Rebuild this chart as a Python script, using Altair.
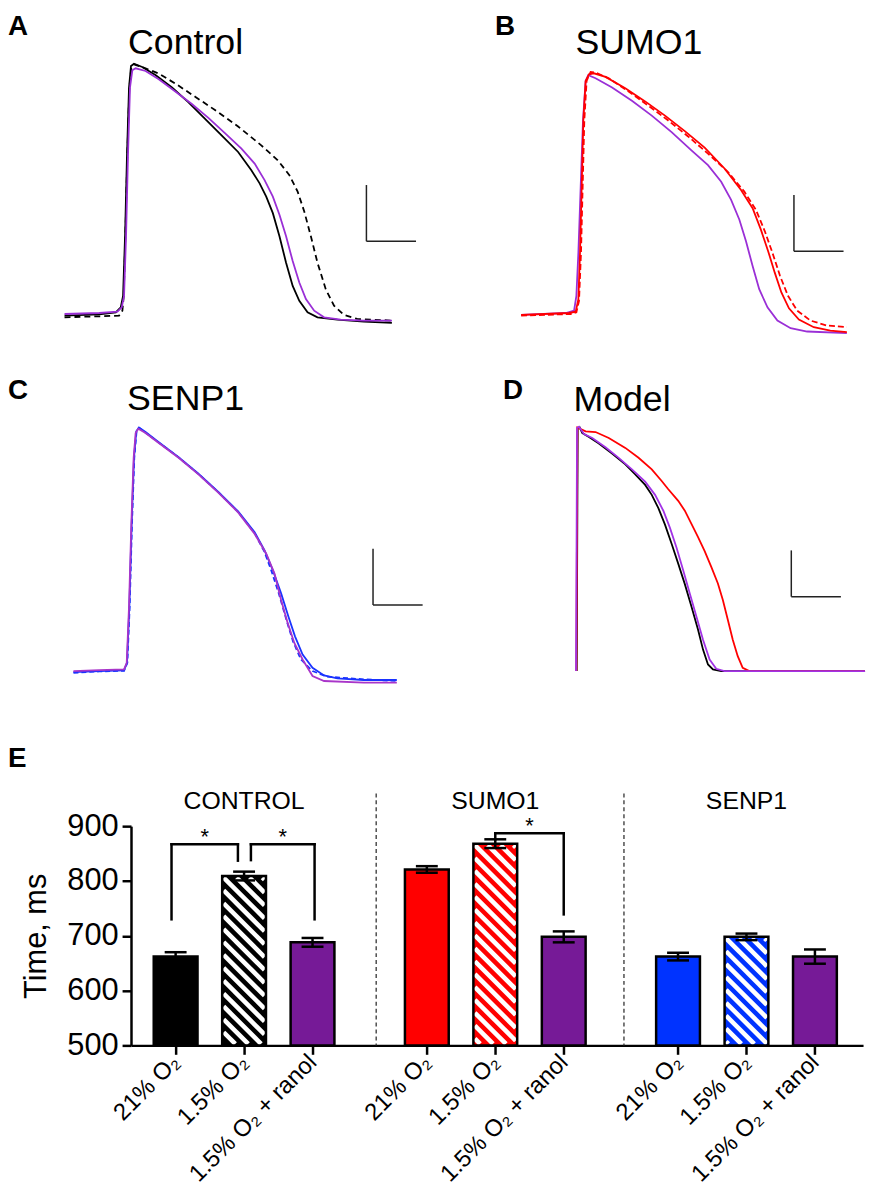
import altair as alt
import pandas as pd

FONT = "Liberation Sans"
LABEL_FONT = "Liberation Sans, DejaVu Sans"

# ---------------- action potential traces: (time ms, voltage mV) ----------------
# Panel A: Control
A_21 = [(-175,-80.0),(-70,-79.6),(-20,-79.0),(-5,-77.5),(2,-74.0),(8,-56.0),(14,-31.0),(20,-11.0),(26,-4.5),(35,-3.8),
        (60,-4.8),(100,-7.2),(150,-11.0),(200,-15.5),(250,-20.5),(300,-25.5),(350,-30.5),(390,-36.0),(415,-40.0),(435,-44.0),
        (455,-49.0),(475,-56.0),(495,-64.0),(515,-71.0),(535,-75.5),(560,-79.0),(590,-80.5),(650,-81.2),(730,-81.8),(815,-82.2)]
A_15 = [(-175,-80.5),(-70,-80.2),(-10,-80.0),(0,-78.5),(4,-74.0),(9,-56.0),(15,-31.0),(21,-11.0),(27,-5.0),(35,-4.0),
        (70,-5.2),(110,-6.8),(160,-9.8),(220,-13.8),(280,-17.8),(350,-22.8),(420,-28.5),(470,-33.0),(505,-37.5),(530,-42.5),
        (550,-48.5),(570,-56.0),(590,-64.0),(615,-72.0),(640,-77.0),(670,-79.8),(710,-81.0),(815,-81.5)]
A_RAN = [(-175,-79.5),(-70,-79.2),(-15,-78.8),(-2,-77.5),(5,-74.0),(11,-56.0),(17,-31.0),(23,-11.0),(30,-5.8),(40,-5.2),
         (70,-6.0),(110,-8.5),(160,-12.2),(210,-16.0),(260,-20.2),(310,-24.8),(360,-29.5),(400,-34.0),(430,-39.0),(455,-44.0),
         (475,-49.5),(495,-56.0),(515,-63.5),(535,-70.0),(555,-75.0),(580,-78.5),(610,-80.5),(660,-81.2),(730,-81.5),(815,-81.5)]

# Panel B: SUMO1
B_21 = [(-175,-80.3),(-30,-79.7),(-10,-79.3),(-2,-75.5),(3,-61.5),(8,-41.5),(13,-21.5),(20,-9.5),(30,-7.5),(45,-7.2),
        (80,-8.3),(140,-11.7),(200,-15.7),(260,-20.0),(320,-24.7),(380,-29.7),(440,-36.0),(490,-42.5),(525,-48.0),(550,-54.5),
        (572,-61.0),(592,-67.5),(612,-73.5),(635,-78.3),(665,-81.7),(710,-84.0),(760,-85.0),(810,-85.5)]
B_15 = [(-175,-80.5),(-25,-80.0),(-8,-79.5),(0,-76.0),(6,-61.5),(11,-41.5),(16,-21.5),(23,-9.5),(35,-6.8),(50,-7.0),
        (90,-8.7),(150,-12.7),(210,-17.0),(270,-21.5),(330,-26.3),(390,-31.5),(450,-37.0),(500,-43.0),(535,-48.5),(562,-55.0),
        (585,-61.5),(608,-68.5),(632,-74.5),(660,-79.0),(700,-82.0),(750,-83.5),(810,-84.0)]
B_RAN = [(-175,-80.3),(-40,-79.7),(-15,-79.0),(-8,-74.5),(-2,-61.5),(5,-41.5),(12,-21.5),(20,-9.5),(28,-7.8),(50,-8.7),
         (100,-11.5),(160,-15.5),(220,-20.0),(280,-25.0),(340,-30.5),(390,-35.0),(430,-40.0),(460,-45.5),(485,-51.5),(505,-58.0),
         (525,-65.5),(545,-72.5),(570,-78.0),(600,-82.0),(640,-84.3),(690,-85.3),(810,-85.8)]

# Panel C: SENP1
C_21 = [(-163,-80.5),(-85,-80.2),(-10,-80.0),(-1,-77.7),(6,-60.7),(13,-35.7),(20,-15.7),(27,-7.7),(35,-6.5),(55,-7.9),
        (95,-11.0),(155,-15.5),(215,-20.5),(275,-26.0),(335,-31.9),(385,-38.2),(415,-43.7),(440,-49.7),(465,-56.7),(487,-63.7),
        (507,-69.7),(530,-75.2),(560,-79.2),(595,-81.5),(635,-82.4),(715,-82.9),(815,-82.9)]
C_15 = [(-163,-80.7),(-85,-80.3),(-10,-80.1),(0,-77.7),(7,-60.7),(14,-35.7),(21,-15.7),(28,-7.5),(37,-6.7),(55,-8.1),
        (95,-11.1),(155,-15.6),(215,-20.6),(275,-26.1),(335,-32.1),(385,-38.5),(415,-44.2),(435,-49.7),(458,-56.7),(481,-64.7),
        (501,-71.2),(525,-76.7),(560,-80.2),(605,-81.9),(715,-82.7),(815,-83.2)]
C_RAN = [(-163,-80.2),(-85,-79.9),(-10,-79.7),(-2,-77.7),(5,-60.7),(12,-35.7),(19,-15.7),(25,-8.2),(33,-6.9),(55,-8.2),
         (95,-11.2),(155,-15.7),(215,-20.7),(275,-26.2),(335,-32.2),(385,-38.7),(420,-44.7),(445,-50.7),(465,-58.7),(485,-65.7),
         (505,-71.7),(530,-76.7),(560,-81.7),(595,-83.2),(715,-83.7),(815,-83.7)]

# Panel D: Model
D_CTRL = [(-2,-80.0),(1,-6.5),(7,-6.3),(15,-8.0),(35,-9.2),(65,-11.2),(105,-14.2),(145,-17.5),(175,-20.5),(205,-23.7),
          (225,-26.7),(245,-30.7),(265,-35.7),(285,-41.5),(305,-47.5),(325,-53.7),(345,-60.5),(365,-67.5),(380,-73.5),(395,-78.0),
          (410,-79.5),(435,-80.0),(870,-80.0)]
D_SUMO = [(-3,-80.0),(0,-6.3),(10,-6.8),(25,-7.5),(55,-7.7),(95,-9.5),(145,-12.5),(185,-15.5),(225,-19.0),(255,-22.5),
          (275,-25.0),(305,-28.5),(325,-31.5),(345,-35.5),(365,-39.5),(385,-43.7),(405,-48.5),(425,-53.5),(440,-58.5),(455,-64.5),
          (470,-70.5),(485,-75.5),(500,-79.0),(520,-80.0),(870,-80.0)]
D_RAN = [(-4,-80.0),(-1,-6.5),(5,-6.1),(20,-8.3),(45,-9.5),(85,-12.3),(125,-15.5),(165,-19.0),(205,-22.7),(235,-26.7),
         (260,-31.5),(280,-36.7),(300,-42.7),(320,-49.5),(340,-56.5),(360,-63.5),(380,-70.5),(400,-76.5),(420,-79.3),(445,-80.0),
         (870,-80.0)]

# scale bars: corner time (ms), corner voltage (mV), length ms, length mV
SCALEBARS = {"A": (738, -57.5, 150, 17), "B": (650, -61.0, 150, 17),
             "C": (743, -60.2, 150, 17), "D": (647, -57.5, 150, 14)}

# ---------------- panel E data ----------------
GROUPS = ["CONTROL", "SUMO1", "SENP1"]
CONDITIONS = ["21% O₂", "1.5% O₂", "1.5% O₂ + ranol"]
APD = [[662, 809, 688], [821, 868, 698], [662, 698, 662]]
SEM = [[8, 8, 8], [6, 8, 10], [7, 6, 13]]
# (group, left condition, right condition, bracket height, left leg end, right leg end)
BRACKETS = [(0, 0, 1, 867, 730, 837), (0, 1, 2, 867, 838, 730), (1, 1, 2, 887, 876, 739)]

# ---------------- styles / layout (pixels inside the single plot area) ----------------
BLACK, RED, BLUE = "#000000", "#FF0000", "#1A33FF"
PUR_A, PUR_C, PUR_D = "#9A2FD6", "#A935C9", "#A233E6"
FILLS = [["#000000", "#000000", "#761A97"], ["#FF0000", "#FF0000", "#761A97"], ["#0033FF", "#0033FF", "#761A97"]]
TOTAL_W, TOTAL_H = 865, 1041

layers = []


def trace_panel(traces, sb, letter, letter_xy, title, title_xy, xdom, xrange_, ydom, yrange_):
    xs = alt.Scale(domain=xdom, range=xrange_, nice=False, zero=False)
    ys = alt.Scale(domain=ydom, range=yrange_, nice=False, zero=False)
    for pts, color, dash in traces:
        df = pd.DataFrame(pts, columns=["t", "v"])
        kw = dict(color=color, strokeWidth=1.8)
        if dash:
            kw["strokeDash"] = dash
        layers.append(alt.Chart(df).mark_line(**kw).encode(
            x=alt.X("t:Q", scale=xs, axis=None), y=alt.Y("v:Q", scale=ys, axis=None)))
    t0, v0, ms, mv = sb
    sbdf = pd.DataFrame({"t": [t0, t0], "t2": [t0, t0 + ms], "v": [v0, v0], "v2": [v0 + mv, v0]})
    layers.append(alt.Chart(sbdf).mark_rule(color="#222222", strokeWidth=1.5).encode(
        x=alt.X("t:Q", scale=xs, axis=None), x2="t2:Q",
        y=alt.Y("v:Q", scale=ys, axis=None), y2="v2:Q"))
    layers.append(alt.Chart(pd.DataFrame({"s": [letter]})).mark_text(
        font=FONT, fontSize=28, fontWeight="bold", align="left", baseline="alphabetic", color="black").encode(
        text="s:N", x=alt.value(letter_xy[0]), y=alt.value(letter_xy[1])))
    layers.append(alt.Chart(pd.DataFrame({"s": [title]})).mark_text(
        font=FONT, fontSize=36, align="center", baseline="alphabetic", color="black").encode(
        text="s:N", x=alt.value(title_xy[0]), y=alt.value(title_xy[1])))


trace_panel([(A_15, BLACK, [6, 4]), (A_21, BLACK, None), (A_RAN, PUR_A, None)], SCALEBARS["A"],
            "A", (0, 22), "Control", (179, 42), [-346, 941], [0, 429], [-88.0, 11.6], [332, 0])
trace_panel([(B_RAN, PUR_A, None), (B_21, RED, None), (B_15, RED, [6, 3])], SCALEBARS["B"],
            "B", (491, 22), "SUMO1", (636, 42), [-440, 868], [429, 865], [-88.5, 11.1], [332, 0])
trace_panel([(C_21, BLUE, None), (C_15, BLUE, [5, 3]), (C_RAN, PUR_C, None)], SCALEBARS["C"],
            "C", (0, 389), "SENP1", (179, 400), [-361, 926], [0, 429], [-102.5, 19.3], [738, 332])
trace_panel([(D_CTRL, BLACK, None), (D_SUMO, RED, None), (D_RAN, PUR_D, None)], SCALEBARS["D"],
            "D", (499, 389), "Model", (619, 401), [-435, 873], [429, 865], [-102.3, 19.5], [738, 332])

# ---------------- panel E ----------------
E_LEFT, E_RIGHT, E_TOP, E_BOTTOM = 124, 862, 820, 1041
XD0, XD1 = -0.652, 10.043
YD0, YD1 = 500, 900
GROUP_STEP = 3.67
HALF = 0.32      # half bar width (x units)
CAP = 0.16       # half cap width
KX = (E_RIGHT - E_LEFT) / (XD1 - XD0)
KY = (E_BOTTOM - E_TOP) / (YD1 - YD0)
XS = alt.Scale(domain=[XD0, XD1], range=[E_LEFT, E_RIGHT], nice=False, zero=False)
YS = alt.Scale(domain=[YD0, YD1], range=[E_BOTTOM, E_TOP], nice=False, zero=False)

rows = []
for g, grp in enumerate(GROUPS):
    for i, cond in enumerate(CONDITIONS):
        p = g * GROUP_STEP + i
        rows.append(dict(key=f"{grp}|{cond}", group=grp, cond=cond, pos=p, x1=p - HALF, x2=p + HALF,
                         val=APD[g][i], lo=APD[g][i] - SEM[g][i], hi=APD[g][i] + SEM[g][i],
                         c1=p - CAP, c2=p + CAP, hatched=(i == 1)))
bdf = pd.DataFrame(rows)
keys = list(bdf["key"])
fills = [FILLS[g][i] for g in range(3) for i in range(3)]
positions = [round(p, 3) for p in bdf["pos"]]


def hatch_segments(pos, val, period=13.0, inset=1.5):
    L = (pos - HALF - XD0) * KX + inset
    R = (pos + HALF - XD0) * KX - inset
    T = (YD1 - val) * KY + inset
    B = (E_BOTTOM - E_TOP) - inset
    segs = []
    b = T - L
    while b > T - R:
        b -= period
    while b < B - L:
        xs_ = max(L, T - b)
        xe_ = min(R, B - b)
        if xe_ - xs_ > 0.5:
            segs.append(dict(x=XD0 + xs_ / KX, x2=XD0 + xe_ / KX,
                             y=YD1 - (xs_ + b) / KY, y2=YD1 - (xe_ + b) / KY))
        b += period
    return segs


hseg = []
for r in rows:
    if r["hatched"]:
        hseg += hatch_segments(r["pos"], r["val"])
hdf = pd.DataFrame(hseg)

label_expr = "''"
for p, lab in reversed(list(zip(positions, [c for _ in GROUPS for c in CONDITIONS]))):
    label_expr = f"abs(datum.value - {p:.3f}) < 0.05 ? '{lab}' : ({label_expr})"

XAXIS = alt.Axis(orient="bottom", values=positions, labelExpr=label_expr, title=None, grid=False, labelAngle=-45,
                 labelAlign="right", labelBaseline="middle", labelFontSize=24, labelFont=LABEL_FONT,
                 labelColor="black", labelPadding=4, labelOverlap=False, labelLimit=300,
                 tickSize=9, tickWidth=2.5, tickColor="black", domainColor="black", domainWidth=2.5)
YAXIS = alt.Axis(orient="left", offset=-E_LEFT, values=[500, 600, 700, 800, 900], title="Time, ms", grid=False,
                 titleFontSize=31, titleFont=FONT, titleFontWeight="normal", titleColor="black", titlePadding=14,
                 labelFontSize=31, labelFont=FONT, labelColor="black", labelPadding=4,
                 tickSize=9, tickWidth=2.5, tickColor="black", domainColor="black", domainWidth=2.5)


def EX(f, axis=None):
    if axis is None:
        return alt.X(f, type="quantitative", scale=XS, axis=None)
    return alt.X(f, type="quantitative", scale=XS, axis=axis)


def EY(f, axis=None):
    if axis is None:
        return alt.Y(f, type="quantitative", scale=YS, axis=None)
    return alt.Y(f, type="quantitative", scale=YS, axis=axis)


layers.append(alt.Chart(bdf).mark_bar(strokeWidth=0).encode(
    x=EX("x1", XAXIS), x2="x2", y=EY("val", YAXIS), y2=alt.datum(500),
    color=alt.Color("key:N", scale=alt.Scale(domain=keys, range=fills), legend=None)))
layers.append(alt.Chart(hdf).mark_rule(color="white", strokeWidth=4.6, strokeCap="butt").encode(
    x=EX("x"), x2="x2", y=EY("y"), y2="y2"))
layers.append(alt.Chart(bdf).mark_bar(fillOpacity=0, stroke="black", strokeWidth=2.5).encode(
    x=EX("x1"), x2="x2", y=EY("val"), y2=alt.datum(500)))
layers.append(alt.Chart(bdf).mark_rule(color="black", strokeWidth=2.5).encode(
    x=EX("pos"), y=EY("lo"), y2="hi"))
layers.append(alt.Chart(bdf).mark_rule(color="black", strokeWidth=2.5).encode(
    x=EX("c1"), x2="c2", y=EY("hi")))
layers.append(alt.Chart(bdf).mark_rule(color="black", strokeWidth=2.5).encode(
    x=EX("c1"), x2="c2", y=EY("lo")))

BRACKET_DX = [(-0.06, -0.09), (0.10, 0.03), (0.0, 0.0)]
bseg, stars = [], []
for (g, li, ri, h, le, re_), (dl, dr) in zip(BRACKETS, BRACKET_DX):
    xl = g * GROUP_STEP + li + dl
    xr = g * GROUP_STEP + ri + dr
    bseg += [dict(x=xl, x2=xr, y=h, y2=h), dict(x=xl, x2=xl, y=le, y2=h), dict(x=xr, x2=xr, y=re_, y2=h)]
    stars.append(dict(x=(xl + xr) / 2, y=h, s="*"))
layers.append(alt.Chart(pd.DataFrame(bseg)).mark_rule(color="black", strokeWidth=2.5, strokeCap="square").encode(
    x=EX("x"), x2="x2", y=EY("y"), y2="y2"))
layers.append(alt.Chart(pd.DataFrame(stars)).mark_text(font=FONT, fontSize=22, baseline="alphabetic",
                                                        align="center", color="black").encode(
    x=EX("x"), y=EY("y"), text="s:N"))

SEP_POS = [2.93, 6.55]
layers.append(alt.Chart(pd.DataFrame({"x": SEP_POS})).mark_rule(color="#333333", strokeWidth=1.3,
                                                               strokeDash=[4, 3]).encode(
    x=EX("x"), y=alt.value(E_TOP - 33), y2=alt.value(E_BOTTOM)))
glab = pd.DataFrame({"x": [g * GROUP_STEP + 1 for g in range(3)], "s": GROUPS})
layers.append(alt.Chart(glab).mark_text(font=FONT, fontSize=25, align="center", baseline="alphabetic",
                                        color="black").encode(
    x=EX("x"), y=alt.value(E_TOP - 17), text="s:N"))
layers.append(alt.Chart(pd.DataFrame({"s": ["E"]})).mark_text(font=FONT, fontSize=28, fontWeight="bold",
                                                              align="left", baseline="alphabetic", color="black").encode(
    text="s:N", x=alt.value(0), y=alt.value(760)))

chart = alt.layer(*layers).resolve_scale(x="independent", y="independent").properties(
    width=TOTAL_W, height=TOTAL_H, padding=0).configure(font=FONT).configure_view(
    strokeWidth=0, stroke="transparent")

chart.save("out.html", embed_options={"renderer": "svg", "actions": False})
